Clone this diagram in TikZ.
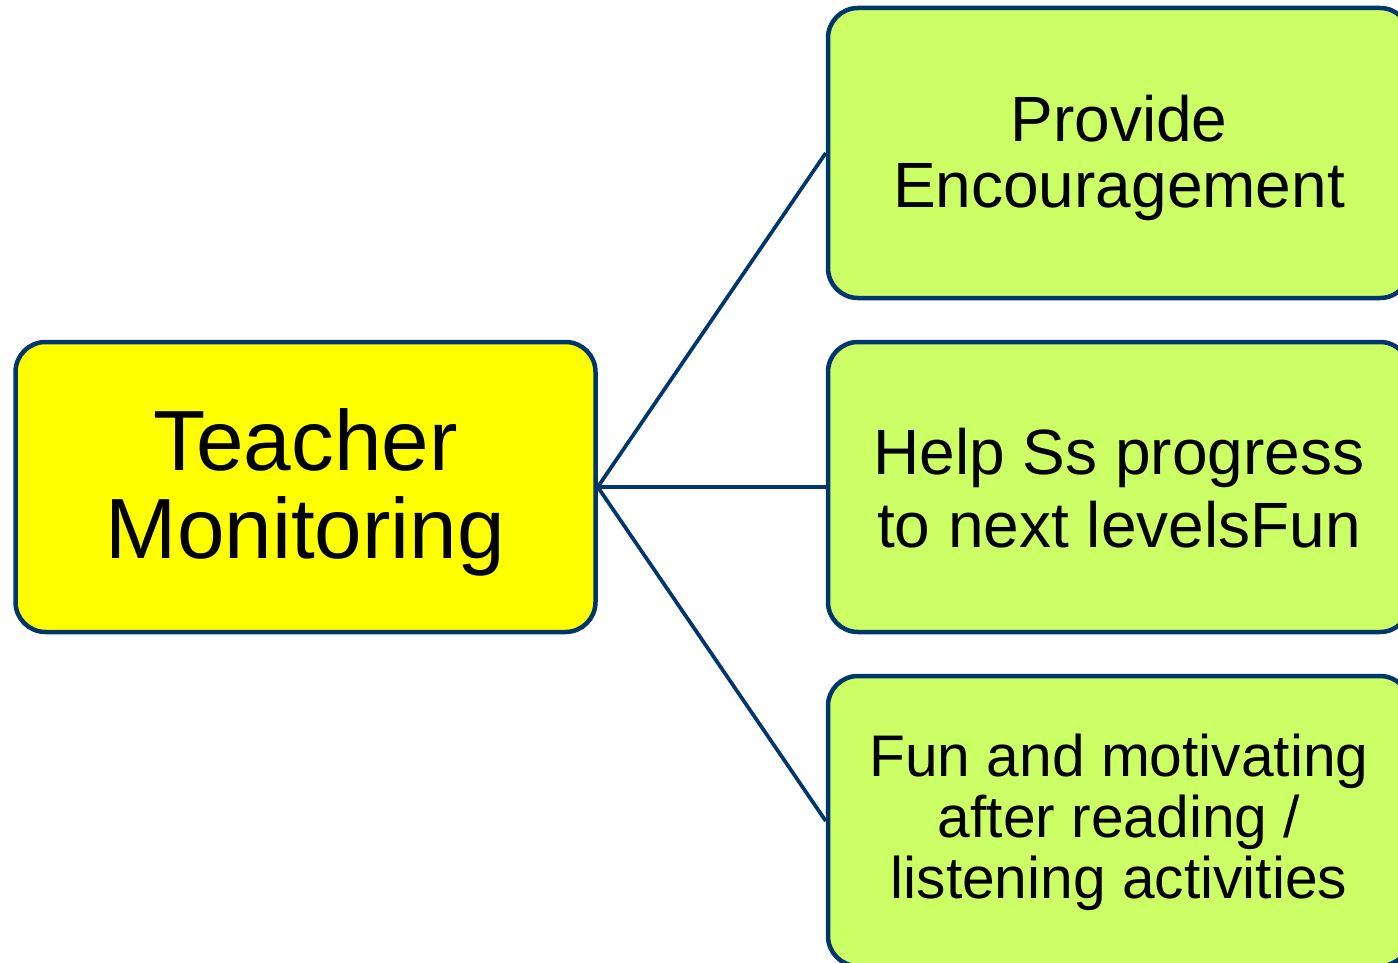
\documentclass[tikz,border=0pt]{standalone}
\usepackage{fontspec}
\setmainfont{Liberation Sans}
\definecolor{navy}{RGB}{0,54,110}
\definecolor{boxyellow}{RGB}{255,255,0}
\definecolor{boxgreen}{RGB}{204,255,102}
\begin{document}
\begin{tikzpicture}[x=1pt,y=-1pt,
  box/.style={draw=navy,line width=4.5pt,rounded corners=30pt,inner sep=0pt},
  rootbox/.style={box,fill=boxyellow,minimum width=580pt,minimum height=290pt},
  leafbox/.style={box,fill=boxgreen,minimum width=582pt,minimum height=290pt},
  label/.style={inner sep=0pt,align=center,text=black},
  link/.style={draw=navy,line width=3.7pt}]
\useasboundingbox (0,0) rectangle (1398,963);
\clip (0,0) rectangle (1398,963);
\node[rootbox] (root) at (305.5,487) {};
\node[leafbox] (a) at (1119,153) {};
\node[leafbox] (b) at (1119,487) {};
\node[leafbox] (c) at (1119,821) {};
\node[label,font=\fontsize{85.5}{88}\selectfont] (rootlabel) at (305.5,492) {Teacher\\Monitoring};
\node[label,font=\fontsize{64}{66}\selectfont] (alabel) at (1119,158) {Provide\\Encouragement};
\node[label,font=\fontsize{64}{73}\selectfont] (blabel) at (1119,488) {Help Ss progress\\to next levelsFun};
\node[label,font=\fontsize{58.7}{61}\selectfont] (clabel) at (1119,822) {Fun and motivating\\after reading /\\listening activities};
\draw[link] (root.east) -- (a.west);
\draw[link] (root.east) -- (b.west);
\draw[link] (root.east) -- (c.west);
\end{tikzpicture}
\end{document}
